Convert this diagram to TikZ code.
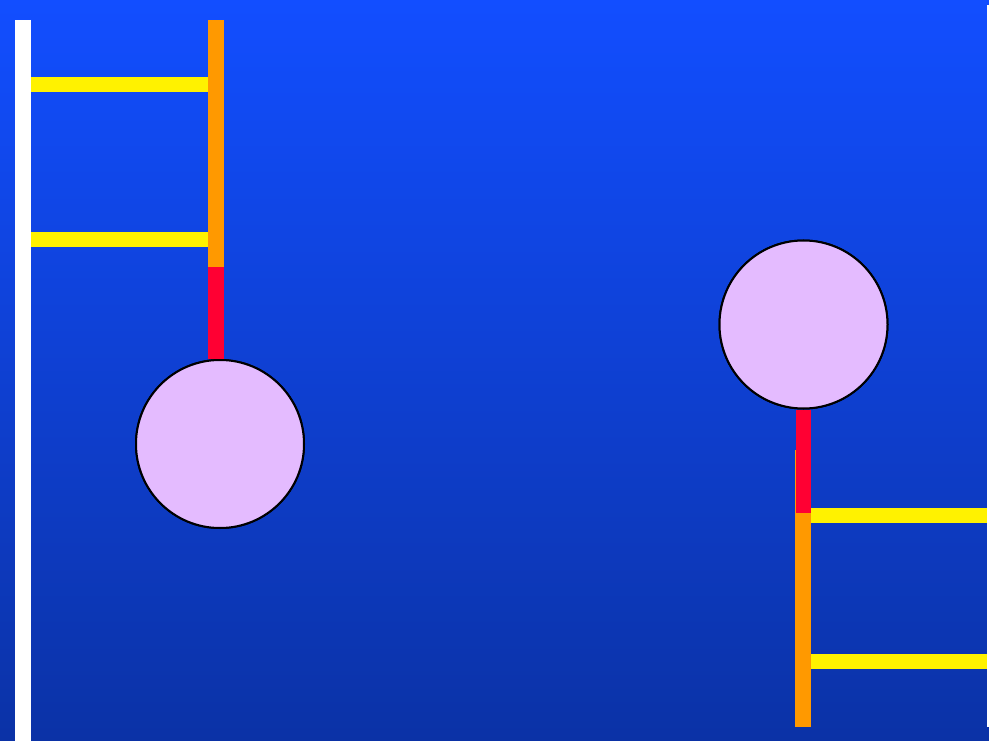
\documentclass[tikz,border=0pt]{standalone}
\usepackage{tikz}
\usetikzlibrary{positioning,calc}

\definecolor{skytop}{RGB}{18,78,255}
\definecolor{skybottom}{RGB}{11,50,166}
\definecolor{bobfill}{RGB}{228,187,255}
\definecolor{rodred}{RGB}{255,0,51}
\definecolor{rodorange}{RGB}{255,153,0}

\begin{document}
\begin{tikzpicture}[
    x=1pt, y=-1pt,
    bar/.style={line width=16pt, line cap=butt},
    rung/.style={line width=15pt, line cap=butt, yellow},
    ball/.style={draw=black, circle, fill=bobfill, line width=2pt, minimum size=168pt, inner sep=0pt}
]

% --- background ---
\shade[top color=skytop, bottom color=skybottom] (0,0) rectangle (989,741);
\useasboundingbox (0,0) rectangle (989,741);

% --- left: wall, ladder and bob ---
\coordinate (wallT) at (23,20);
\coordinate (wallB) at (23,741);
\coordinate (rodLT) at (216,20);
\coordinate (rodLM) at (216,267);
\node[ball] (bobL) at (220,444) {};

\draw[bar, white] (wallT) -- (wallB);
\draw[bar, rodorange] (rodLT) -- (rodLM);
\draw[bar, rodred] (rodLM) -- (rodLM |- bobL.north);
\draw[rung] (31,85) -- (208,85);
\draw[rung] (31,240) -- (208,240);

% --- right: bob, rod and ladder ---
\node[ball] (bobR) at (803.5,324.5) {};
\coordinate (rodRT) at (803,450);
\coordinate (rodRM) at (803.5,513);
\coordinate (rodRB) at (803,727);

\draw[bar, rodorange] (rodRT) -- (rodRB);
\draw[line width=15pt, rodred] (bobR.south) -- (rodRM);
\draw[rung] (811,515) -- (989,515);
\draw[rung] (811,661) -- (989,661);
\draw[white, line width=1.5pt] (988,5) -- (988,727);

% bobs on top
\node[ball] at (bobL) {};
\node[ball] at (bobR) {};

\end{tikzpicture}
\end{document}
